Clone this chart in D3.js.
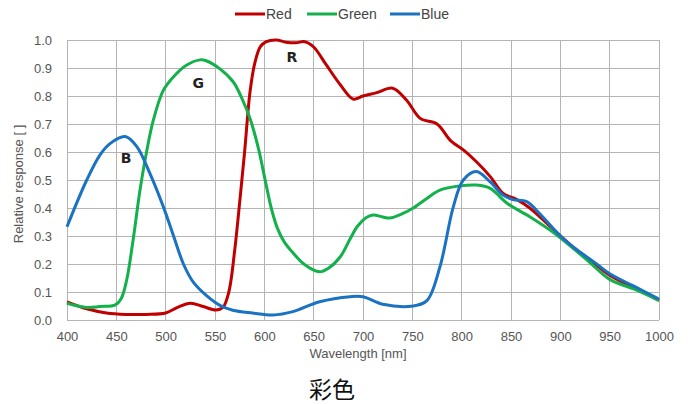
<!DOCTYPE html>
<html>
<head>
<meta charset="utf-8">
<script src="https://cdn.jsdelivr.net/npm/d3@7"></script>
<style>
  body { margin: 0; background: #fff; }
  text { font-family: "Liberation Sans", Arial, sans-serif; }
</style>
</head>
<body>
<div class="chart"></div>
<script>
var width = 691;
var height = 404;

// data
var xTicks = d3.range(400, 1001, 50);
var yTicks = d3.range(0, 1.01, 0.1);

var redWave  = [400,420,440,460,480,500,512,525,538,551,558,564,570,575,580,585.5,590.5,596,602,612,622,632,641,650,663,677,690,700,714,730,744,758,775,789,802,815,829,842,856,869,890,913,930,950,975,1000];
var redValue = [0.065,0.04,0.025,0.02,0.02,0.025,0.045,0.06,0.048,0.036,0.045,0.1,0.25,0.42,0.6,0.815,0.92,0.976,0.994,1.0,0.992,0.99,0.994,0.975,0.91,0.84,0.789,0.80,0.812,0.828,0.786,0.72,0.70,0.64,0.607,0.565,0.512,0.452,0.43,0.40,0.333,0.26,0.215,0.16,0.115,0.07];

var greenWave  = [400,420,433,449,455,460.5,467,474,481,487.5,497.6,508,521,535,541,555,568.6,578.7,585.5,594,602,607,613,620,629,640,656,665,677,687,694,703,710,720,727,740,751,765,778,798,815,829,846,869,890,913,930,950,975,1000];
var greenValue = [0.06,0.045,0.048,0.054,0.077,0.143,0.286,0.464,0.607,0.714,0.82,0.869,0.91,0.929,0.926,0.897,0.85,0.78,0.72,0.613,0.48,0.40,0.33,0.28,0.24,0.20,0.172,0.185,0.226,0.29,0.333,0.365,0.375,0.368,0.364,0.38,0.40,0.435,0.464,0.479,0.482,0.47,0.417,0.369,0.32,0.256,0.205,0.145,0.11,0.07];

var blueWave  = [400,420,433.5,443.6,459,470.6,484,497.6,508,518,528,542,555,568,588,609,629,656,687,700,720,751,765,778,791.6,801.7,815,828.7,842,852,866,879,900,917,935,950,975,1000];
var blueValue = [0.333,0.50,0.59,0.63,0.655,0.62,0.524,0.405,0.30,0.20,0.135,0.085,0.052,0.035,0.025,0.018,0.03,0.065,0.083,0.083,0.056,0.05,0.07,0.19,0.405,0.50,0.53,0.494,0.446,0.43,0.423,0.38,0.30,0.25,0.205,0.165,0.12,0.075];

var series = [
  {name: 'Red',   color: '#c00000', wave: redWave,   value: redValue},
  {name: 'Green', color: '#13b04b', wave: greenWave, value: greenValue},
  {name: 'Blue',  color: '#1a72c2', wave: blueWave,  value: blueValue}
];

var curveLabels = [
  {text: 'R', nm: 628, v: 0.921},
  {text: 'G', nm: 533, v: 0.829},
  {text: 'B', nm: 460, v: 0.561}
];

var margin = {left: 67, right: 32, top: 40, bottom: 84};

var svg = d3.select('.chart').append('svg').attr('width', width).attr('height', height);

var x = d3.scaleLinear().domain([400, 1000]).range([margin.left, width - margin.right]);
var y = d3.scaleLinear().domain([0, 1]).range([height - margin.bottom, margin.top]);

// grid
svg.append('g').selectAll('line').data(xTicks).enter().append('line')
  .attr('x1', function(d){ return x(d); }).attr('x2', function(d){ return x(d); })
  .attr('y1', y(0)).attr('y2', y(1))
  .attr('stroke', '#b4b4b4').attr('stroke-width', 1).attr('shape-rendering', 'crispEdges');
svg.append('g').selectAll('line').data(yTicks).enter().append('line')
  .attr('x1', x(400)).attr('x2', x(1000))
  .attr('y1', function(d){ return y(d); }).attr('y2', function(d){ return y(d); })
  .attr('stroke', '#b4b4b4').attr('stroke-width', 1).attr('shape-rendering', 'crispEdges');

// axes
var xAxis = svg.append('g').attr('transform', 'translate(0,' + y(0) + ')')
  .call(d3.axisBottom(x).tickValues(xTicks).tickSize(0).tickPadding(12).tickFormat(d3.format('d')));
var yAxis = svg.append('g').attr('transform', 'translate(' + x(400) + ',0)')
  .call(d3.axisLeft(y).tickValues(yTicks).tickSize(0).tickPadding(15).tickFormat(d3.format('.1f')));
[xAxis, yAxis].forEach(function(a){
  a.select('.domain').remove();
  a.selectAll('text').attr('fill', '#555').style('font-size', '13px')
    .style('font-family', '"Liberation Sans", Arial, sans-serif');
});

svg.append('text').attr('x', 358).attr('y', 358).attr('text-anchor', 'middle')
  .attr('fill', '#555').style('font-size', '13px').text('Wavelength [nm]');
svg.append('text').attr('transform', 'translate(23,' + 184 + ') rotate(-90)')
  .attr('text-anchor', 'middle').attr('fill', '#555').style('font-size', '13px')
  .text('Relative response [ ]');

// lines
var line = d3.line()
  .x(function(d){ return x(d[0]); })
  .y(function(d){ return y(d[1]); })
  .curve(d3.curveCatmullRom.alpha(0.5));

series.forEach(function(s){
  var pts = s.wave.map(function(w, i){ return [w, s.value[i]]; });
  svg.append('path').datum(pts)
    .attr('d', line)
    .attr('fill', 'none')
    .attr('stroke', s.color)
    .attr('stroke-width', 3)
    .attr('stroke-linejoin', 'round');
});

svg.selectAll('.clabel').data(curveLabels).enter().append('text')
  .attr('class', 'clabel')
  .attr('x', function(d){ return x(d.nm); })
  .attr('y', function(d){ return y(d.v); })
  .attr('text-anchor', 'middle')
  .attr('fill', '#222')
  .style('font-weight', 'bold').style('font-size', '14px')
  .style('font-family', '"DejaVu Sans", sans-serif')
  .text(function(d){ return d.text; });

// legend
var legendX = [235, 307, 390];
var lg = svg.append('g').selectAll('g').data(series).enter().append('g')
  .attr('transform', function(d, i){ return 'translate(' + legendX[i] + ',14)'; });
lg.append('line').attr('x1', 0).attr('x2', 30).attr('y1', 0).attr('y2', 0)
  .attr('stroke', function(d){ return d.color; }).attr('stroke-width', 3);
lg.append('text').attr('x', 31).attr('y', 5).attr('fill', '#444')
  .style('font-size', '14px').text(function(d){ return d.name; });

// caption
svg.append('text').attr('x', 332).attr('y', 398).attr('text-anchor', 'middle')
  .attr('fill', '#111').style('font-size', '23px')
  .style('font-family', '"Noto Sans CJK SC", sans-serif')
  .text('彩色');
</script>
</body>
</html>
